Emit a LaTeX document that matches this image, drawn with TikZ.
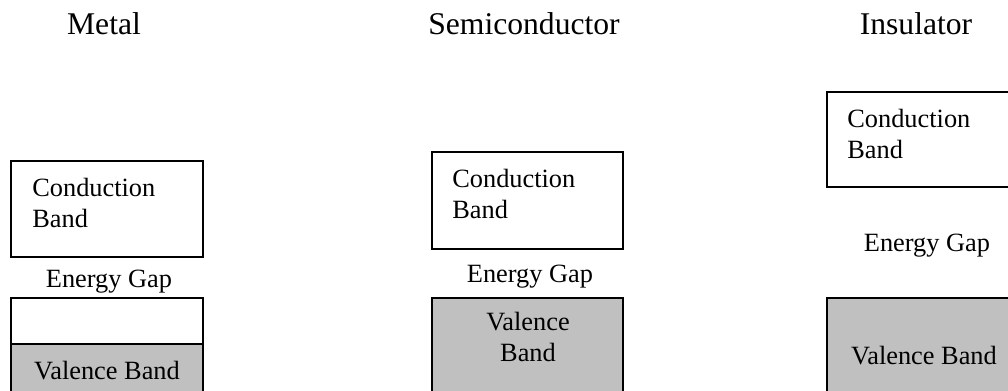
\documentclass[tikz,border=0pt]{standalone}
\usepackage{fontspec}
\setmainfont{Liberation Serif}
\definecolor{bandgray}{RGB}{192,192,192}
\tikzset{
  title/.style={anchor=base, inner sep=0pt, font=\fontsize{18}{21}\selectfont},
  bandbox/.style={draw, line width=1.1pt},
  bandtext/.style={anchor=north west, align=left, inner sep=0pt, font=\fontsize{15}{17.4}\selectfont},
  midtext/.style={anchor=north, align=center, inner sep=0pt, font=\fontsize{15}{17.4}\selectfont},
  gaptext/.style={anchor=base, inner sep=0pt, font=\fontsize{15}{17.4}\selectfont}
}
\begin{document}
\begin{tikzpicture}[x=0.02cm, y=-0.02cm]
	\useasboundingbox (0,0) rectangle (1008,391);
	\clip (0,0) rectangle (1008,391);

	\node[title] (metal) at (104,35) {Metal};
	\node[title] (semi) at (524,35) {Semiconductor};
	\node[title] (insul) at (916,35) {Insulator};

	% metal
	\draw[bandbox] (11,161) rectangle (203,257);
	\node[bandtext] (m-cb) at (32,178) {Conduction\\Band};
	\node[gaptext] (m-gap) at (109,288) {Energy Gap};
	\draw[bandbox, fill=bandgray] (11,344) rectangle (203,400);
	\draw[bandbox] (11,298) rectangle (203,344);
	\node[gaptext] (m-vb) at (107,380) {Valence Band};

	% semiconductor
	\draw[bandbox] (432,152) rectangle (623,249);
	\node[bandtext] (s-cb) at (452,169) {Conduction\\Band};
	\node[gaptext] (s-gap) at (530,283) {Energy Gap};
	\draw[bandbox, fill=bandgray] (432,298) rectangle (623,400);
	\node[midtext] (s-vb) at (528,312) {Valence\\Band};

	% insulator
	\draw[bandbox] (827,92) rectangle (1019,187);
	\node[bandtext] (i-cb) at (847,109) {Conduction\\Band};
	\node[gaptext] (i-gap) at (927,252) {Energy Gap};
	\draw[bandbox, fill=bandgray] (827,298) rectangle (1019,400);
	\node[gaptext] (i-vb) at (924,365) {Valence Band};
\end{tikzpicture}
\end{document}
